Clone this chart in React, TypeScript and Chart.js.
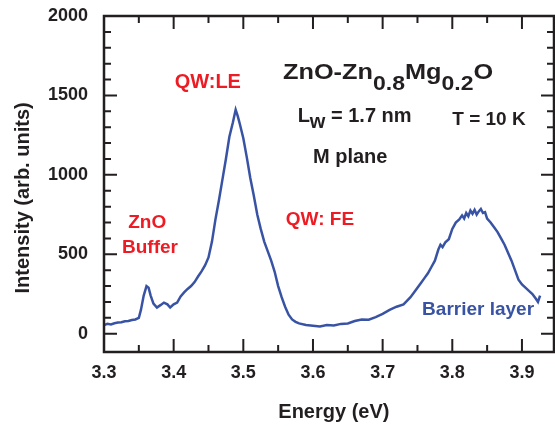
import React, { useEffect, useRef } from "react";
import { Chart, registerables } from "chart.js";

Chart.register(...registerables);

// ---- data ----
const energies = [
  3.300, 3.305, 3.310, 3.315, 3.320, 3.325, 3.330, 3.335, 3.340, 3.345,
  3.350, 3.353, 3.357, 3.361, 3.364, 3.367, 3.371, 3.376, 3.381, 3.386,
  3.391, 3.395, 3.400, 3.405, 3.410, 3.415, 3.420, 3.425, 3.430, 3.435,
  3.440, 3.445, 3.450, 3.455, 3.460, 3.465, 3.470, 3.475, 3.480, 3.485,
  3.489, 3.492, 3.495, 3.500, 3.505, 3.510, 3.515, 3.520, 3.525, 3.530,
  3.535, 3.540, 3.545, 3.550, 3.555, 3.560, 3.565, 3.570, 3.575, 3.580,
  3.590, 3.600, 3.610, 3.620, 3.630, 3.640, 3.650, 3.660, 3.670, 3.680,
  3.690, 3.700, 3.710, 3.720, 3.730, 3.740, 3.745, 3.750, 3.755, 3.760,
  3.765, 3.770, 3.775, 3.780, 3.783, 3.786, 3.790, 3.795, 3.800, 3.805,
  3.810, 3.814, 3.817, 3.820, 3.823, 3.826, 3.829, 3.832, 3.835, 3.838,
  3.841, 3.844, 3.847, 3.850, 3.855, 3.860, 3.865, 3.870, 3.875, 3.880,
  3.885, 3.890, 3.895, 3.900, 3.905, 3.910, 3.915, 3.920, 3.923, 3.926,
];
const intensities = [
  55, 62, 58, 66, 70, 72, 78, 80, 86, 90,
  100, 150, 240, 300, 290, 240, 190, 165, 180, 196,
  185, 165, 185, 196, 235, 260, 282, 300, 325, 360,
  392, 430, 480, 580, 720, 840, 970, 1100, 1240, 1330,
  1410, 1370, 1320, 1230, 1110, 980, 870, 750, 660, 580,
  520, 460, 390, 300, 230, 170, 120, 90, 75, 65,
  55, 50, 45, 55, 52, 62, 65, 80, 90, 88,
  105, 125, 150, 170, 185, 230, 260, 290, 320, 350,
  380, 420, 460, 530, 560, 545, 575, 595, 660, 700,
  720, 745, 725, 760, 740, 775, 755, 780, 750, 770,
  785, 760, 765, 725, 700, 670, 640, 600, 560, 510,
  460, 400, 340, 310, 290, 270, 250, 220, 200, 240,
];

const xMajorTicks = [3.3, 3.4, 3.5, 3.6, 3.7, 3.8, 3.9];
const xMinorTicks = [3.35, 3.45, 3.55, 3.65, 3.75, 3.85];
const yMajorTicks = [0, 500, 1000, 1500, 2000];
const yMinorTicks = [100, 200, 300, 400, 600, 700, 800, 900, 1100, 1200, 1300, 1400, 1600, 1700, 1800, 1900];

const X_MIN = 3.3;
const X_MAX = 3.946;
const Y_MIN = -115;
const Y_MAX = 2000;

// annotation texts (anchored in data coordinates)
const redLabels = [
  { text: "QW:LE", x: 3.449, y: 1582, size: 20 },
  { text: "ZnO", x: 3.362, y: 696, size: 19 },
  { text: "Buffer", x: 3.366, y: 538, size: 19 },
  { text: "QW: FE", x: 3.610, y: 715, size: 19 },
];
const blueLabels = [{ text: "Barrier layer", x: 3.837, y: 152, size: 19 }];

const FONT = '"Liberation Sans", Arial, sans-serif';
const INK = "#231f20";
const RED = "#ed1c24";
const BLUE = "#3953a4";

function drawRuns(
  ctx: CanvasRenderingContext2D,
  runs: { t: string; sub?: boolean }[],
  x: number, y: number, size: number, subSize: number, subDrop: number, sx = 1
) {
  ctx.save();
  ctx.translate(x, y);
  ctx.scale(sx, 1);
  let cx = 0;
  ctx.textAlign = "left";
  ctx.textBaseline = "alphabetic";
  for (const r of runs) {
    ctx.font = `bold ${r.sub ? subSize : size}px ${FONT}`;
    ctx.fillText(r.t, cx, r.sub ? subDrop : 0);
    cx += ctx.measureText(r.t).width;
  }
  ctx.restore();
}

const framePlugin = {
  id: "frame",
  afterDraw(chart: any) {
    const ctx: CanvasRenderingContext2D = chart.ctx;
    const { left, right, top, bottom } = chart.chartArea;
    const xs = chart.scales.x;
    const ys = chart.scales.y;
    ctx.save();
    ctx.strokeStyle = INK;
    ctx.lineWidth = 2.5;
    ctx.strokeRect(left, top, right - left, bottom - top);
    ctx.lineWidth = 2;
    const maj = 13, min = 7;
    ctx.beginPath();
    const xt = (v: number, len: number) => {
      const p = xs.getPixelForValue(v);
      ctx.moveTo(p, bottom); ctx.lineTo(p, bottom - len);
      ctx.moveTo(p, top); ctx.lineTo(p, top + len);
    };
    const yt = (v: number, len: number) => {
      const p = ys.getPixelForValue(v);
      ctx.moveTo(left, p); ctx.lineTo(left + len, p);
      ctx.moveTo(right, p); ctx.lineTo(right - len, p);
    };
    xMajorTicks.forEach((v) => xt(v, maj));
    xMinorTicks.forEach((v) => xt(v, min));
    yMajorTicks.forEach((v) => yt(v, maj));
    yMinorTicks.forEach((v) => yt(v, min));
    ctx.stroke();

    // axis titles
    ctx.fillStyle = INK;
    ctx.font = `bold 20px ${FONT}`;
    ctx.textAlign = "center";
    ctx.textBaseline = "middle";
    ctx.fillText("Energy (eV)", xs.getPixelForValue(3.630), bottom + 60);
    ctx.save();
    ctx.translate(23, ys.getPixelForValue(855));
    ctx.rotate(-Math.PI / 2);
    ctx.fillText("Intensity (arb. units)", 0, 0);
    ctx.restore();

    // annotations
    ctx.fillStyle = RED;
    redLabels.forEach((l) => {
      ctx.font = `bold ${l.size}px ${FONT}`;
      ctx.fillText(l.text, xs.getPixelForValue(l.x), ys.getPixelForValue(l.y));
    });
    ctx.fillStyle = BLUE;
    blueLabels.forEach((l) => {
      ctx.font = `bold ${l.size}px ${FONT}`;
      ctx.fillText(l.text, xs.getPixelForValue(l.x), ys.getPixelForValue(l.y));
    });

    ctx.fillStyle = INK;
    drawRuns(ctx, [{ t: "ZnO-Zn" }, { t: "0.8", sub: true }, { t: "Mg" }, { t: "0.2", sub: true }, { t: "O" }],
      xs.getPixelForValue(3.557), ys.getPixelForValue(1601), 22, 20, 11, 1.15);
    drawRuns(ctx, [{ t: "L" }, { t: "w", sub: true }, { t: " = 1.7 nm" }],
      xs.getPixelForValue(3.578), ys.getPixelForValue(1335), 20, 20, 6);
    drawRuns(ctx, [{ t: "T = 10 K" }], xs.getPixelForValue(3.800), ys.getPixelForValue(1316), 19, 19, 0);
    drawRuns(ctx, [{ t: "M plane" }], xs.getPixelForValue(3.600), ys.getPixelForValue(1076), 20, 20, 0);
    ctx.restore();
  },
};

export default function App() {
  const ref = useRef<HTMLCanvasElement>(null);
  useEffect(() => {
    if (!ref.current) return;
    const chart = new Chart(ref.current, {
      type: "line",
      data: {
        datasets: [
          {
            data: energies.map((e, i) => ({ x: e, y: intensities[i] })),
            borderColor: BLUE,
            borderWidth: 2.5,
            pointRadius: 0,
            tension: 0,
            fill: false,
          },
        ],
      },
      options: {
        animation: false,
        responsive: false,
        layout: { padding: { top: 16, right: 1, left: 0, bottom: 0 } },
        plugins: { legend: { display: false }, tooltip: { enabled: false } },
        scales: {
          x: {
            type: "linear",
            min: X_MIN,
            max: X_MAX,
            grid: { display: false, drawTicks: false },
            border: { display: false },
            afterBuildTicks: (s: any) => { s.ticks = xMajorTicks.map((v) => ({ value: v })); },
            afterFit: (s: any) => { s.height = 76; s.paddingLeft = 0; s.paddingRight = 0; },
            ticks: {
              padding: 10,
              color: INK,
              font: { family: FONT, size: 18, weight: "bold" },
              callback: (v: any) => Number(v).toFixed(1),
              maxRotation: 0,
            },
          },
          y: {
            type: "linear",
            min: Y_MIN,
            max: Y_MAX,
            grid: { display: false, drawTicks: false },
            border: { display: false },
            afterBuildTicks: (s: any) => { s.ticks = yMajorTicks.map((v) => ({ value: v })); },
            afterFit: (s: any) => { s.width = 104; s.paddingTop = 0; s.paddingBottom = 0; },
            ticks: {
              padding: 16,
              color: INK,
              font: { family: FONT, size: 18, weight: "bold" },
              callback: (v: any) => String(v),
            },
          },
        },
      },
      plugins: [framePlugin],
    });
    return () => chart.destroy();
  }, []);
  return (
    <div style={{ position: "fixed", left: 0, top: 0, width: 555, height: 428, background: "#fff" }}>
      <canvas ref={ref} width={555} height={428} style={{ width: 555, height: 428, display: "block" }} />
    </div>
  );
}
